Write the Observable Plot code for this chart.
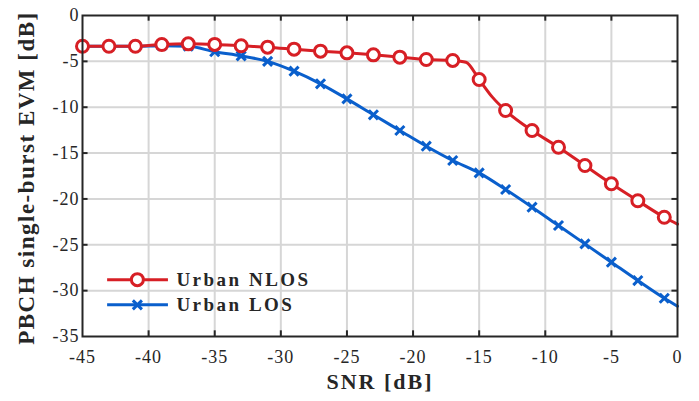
<!DOCTYPE html>
<html>
<head>
<meta charset="utf-8">
<script src="https://cdn.jsdelivr.net/npm/d3@7"></script>
<script src="https://cdn.jsdelivr.net/npm/@observablehq/plot@0.6"></script>
<style>
  html, body { margin: 0; padding: 0; background: #fff; }
  #chart svg { display: block; }
  #chart svg text { font-family: "Liberation Serif", "Times New Roman", serif; }
</style>
</head>
<body>
<div id="chart"></div>
<script>
// ---- data ----
const snr = [-45, -43, -41, -39, -37, -35, -33, -31, -29, -27, -25, -23, -21, -19, -17, -15, -13, -11, -9, -7, -5, -3, -1];
const urbanNLOS = [-3.35, -3.35, -3.35, -3.16, -3.09, -3.15, -3.3, -3.45, -3.67, -3.89, -4.07, -4.29, -4.54, -4.8, -4.9, -6.98, -10.36, -12.54, -14.36, -16.36, -18.35, -20.2, -22.0];
const urbanLOS = [-3.35, -3.35, -3.35, -3.3, -3.35, -3.95, -4.4, -5.0, -6.07, -7.45, -9.09, -10.83, -12.54, -14.25, -15.81, -17.16, -18.97, -20.9, -22.9, -24.9, -26.9, -28.9, -30.83];
// extra line-only samples (no marker drawn there)
const nlosLineSnr = [-16, -14, 0];
const nlosLineVal = [-5.1, -8.9, -22.75];
const losLineSnr = [0];
const losLineVal = [-31.7];
const xTicks = [-45, -40, -35, -30, -25, -20, -15, -10, -5, 0];
const yTicks = [-35, -30, -25, -20, -15, -10, -5, 0];
const seriesNames = ["Urban NLOS", "Urban LOS"];
const xTitle = "SNR [dB]";
const yTitle = "PBCH single-burst EVM [dB]";

// ---- build tables ----
const red = "#d71f25";
const blue = "#0a5fcc";
const nlosPts = snr.map((x, i) => ({x, y: urbanNLOS[i]}));
const losPts = snr.map((x, i) => ({x, y: urbanLOS[i]}));
const nlosLine = nlosPts.concat(nlosLineSnr.map((x, i) => ({x, y: nlosLineVal[i]}))).sort((a, b) => a.x - b.x);
const losLine = losPts.concat(losLineSnr.map((x, i) => ({x, y: losLineVal[i]}))).sort((a, b) => a.x - b.x);

// legend placement (data units)
const legRows = [
  {name: seriesNames[0], y: -28.8, color: red, kind: "o"},
  {name: seriesNames[1], y: -31.55, color: blue, kind: "x"}
];
const legX1 = -43.1, legX2 = -38.5, legXm = -40.85, legXt = -37.9;

// inner tick lengths in data units
const tkY = 0.62, tkX = 0.42;
const innerX = xTicks.filter(d => d > -45 && d < 0);
const innerY = yTicks.filter(d => d > -35 && d < 0);
const axisColor = "#262626";
const font = "Liberation Serif";

const chart = Plot.plot({
  width: 699,
  height: 401,
  marginLeft: 82,
  marginRight: 22,
  marginTop: 15,
  marginBottom: 65,
  x: {domain: [-45, 0]},
  y: {domain: [-35, 0]},
  style: {fontFamily: font, fontSize: "18px", background: "#fff", color: "#262626", overflow: "visible"},
  marks: [
    Plot.gridX(innerX, {stroke: "#d6d6d6", strokeOpacity: 1, strokeWidth: 2}),
    Plot.gridY(innerY, {stroke: "#d6d6d6", strokeOpacity: 1, strokeWidth: 2}),
    Plot.axisX(xTicks, {tickSize: 0, tickPadding: 14, label: null, tickFormat: d => String(d), fontSize: 18, fontFamily: font, fill: "#262626"}),
    Plot.axisY(yTicks, {tickSize: 0, tickPadding: 3, label: null, tickFormat: d => String(d), fontSize: 18, fontFamily: font, fill: "#262626"}),
    // inward ticks on all four sides
    Plot.ruleX(innerX, {y1: -35, y2: -35 + tkY, stroke: axisColor, strokeWidth: 2}),
    Plot.ruleX(innerX, {y1: 0, y2: -tkY, stroke: axisColor, strokeWidth: 2}),
    Plot.ruleY(innerY, {x1: -45, x2: -45 + tkX, stroke: axisColor, strokeWidth: 2}),
    Plot.ruleY(innerY, {x1: 0, x2: -tkX, stroke: axisColor, strokeWidth: 2}),
    // series
    Plot.line(losLine, {x: "x", y: "y", stroke: blue, strokeWidth: 3, curve: "monotone-x"}),
    Plot.dot(losPts, {x: "x", y: "y", symbol: "times", r: 4.2, stroke: blue, strokeWidth: 3}),
    Plot.line(nlosLine, {x: "x", y: "y", stroke: red, strokeWidth: 3, curve: "monotone-x"}),
    Plot.dot(nlosPts, {x: "x", y: "y", r: 6, stroke: red, strokeWidth: 3, fill: "#fff"}),
    // frame
    Plot.frame({stroke: axisColor, strokeWidth: 2}),
    // legend
    Plot.ruleY(legRows, {y: "y", x1: legX1, x2: legX2, stroke: "color", strokeWidth: 3}),
    Plot.dot(legRows.filter(d => d.kind === "o"), {x: legXm, y: "y", r: 6, stroke: "color", strokeWidth: 3, fill: "#fff"}),
    Plot.dot(legRows.filter(d => d.kind === "x"), {x: legXm, y: "y", symbol: "times", r: 4.2, stroke: "color", strokeWidth: 3}),
    Plot.text(legRows, {x: legXt, y: "y", text: "name", textAnchor: "start", fontWeight: "bold", fontSize: 19, fontFamily: font, fill: "#262626"}),
    // axis titles
    Plot.text([xTitle], {frameAnchor: "bottom", textAnchor: "middle", dy: 52, lineAnchor: "bottom", text: d => d, fontWeight: "bold", fontSize: 22, fontFamily: font, fill: "#262626"}),
    Plot.text([yTitle], {frameAnchor: "left", textAnchor: "middle", dx: -49, dy: 2, lineAnchor: "bottom", rotate: -90, text: d => d, fontWeight: "bold", fontSize: 23, fontFamily: font, fill: "#262626"})
  ]
});
// letter spacing to mimic the wider LaTeX typeface of the original
d3.select(chart).selectAll("text").each(function() {
  const t = this.textContent;
  let ls = 1;
  if (seriesNames.includes(t)) ls = 2.5;
  else if (t === xTitle) ls = 2;
  else if (t === yTitle) ls = 1.5;
  this.setAttribute("letter-spacing", ls);
});
document.getElementById("chart").appendChild(chart);
</script>
</body>
</html>
